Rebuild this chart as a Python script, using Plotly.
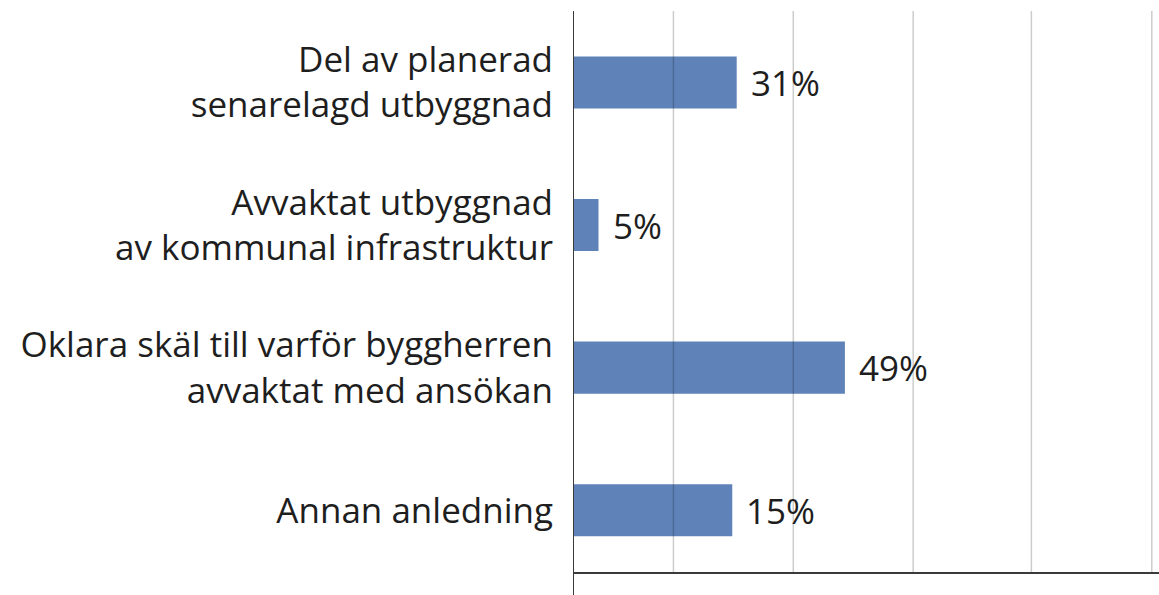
import plotly.graph_objects as go

# Categories (top to bottom)
categories = [
    "Del av planerad<br>senarelagd utbyggnad",
    "Avvaktat utbyggnad<br>av kommunal infrastruktur",
    "Oklara skäl till varför byggherren<br>avvaktat med ansökan",
    "Annan anledning",
]
# Bar lengths as drawn in the picture (axis units)
bar_lengths = [29.5, 4.6, 49.0, 28.7]
# Printed value labels
value_labels = ["31%", "5%", "49%", "15%"]
# Gridline positions (axis units)
grid_positions = [18.1, 39.7, 61.3, 82.6, 104.3]

FONT = "Open Sans"
TXT = "#1e1e1e"
FS = 35

fig = go.Figure()
fig.add_trace(go.Bar(
    x=bar_lengths,
    y=list(range(len(categories))),
    orientation="h",
    width=0.365,
    marker=dict(color="#5f83b9", line=dict(width=0)),
    hoverinfo="skip",
))

for i, (v, lab) in enumerate(zip(bar_lengths, value_labels)):
    fig.add_annotation(
        x=v, y=i, xref="x", yref="y", text=lab, showarrow=False,
        xanchor="left", yanchor="middle", xshift=12,
        font=dict(family=FONT, size=FS, color=TXT),
    )

for g in grid_positions:
    fig.add_shape(type="line", xref="x", yref="paper", x0=g, x1=g, y0=0, y1=1,
                  line=dict(color="rgba(0,0,0,0.2)", width=1.5), layer="above")

# vertical axis line extending below the horizontal axis
fig.add_shape(type="line", xref="x", yref="paper", x0=0, x1=0, y0=-0.045, y1=1,
              line=dict(color="#3a3a3a", width=2), layer="above")

fig.update_layout(
    width=1159, height=595,
    margin=dict(l=573, r=0, t=11, b=23),
    plot_bgcolor="white", paper_bgcolor="white",
    showlegend=False,
    xaxis=dict(range=[0, 105.6], showgrid=False, zeroline=False,
               showticklabels=False, showline=True, linecolor="#3a3a3a",
               linewidth=2, ticks=""),
    yaxis=dict(range=[3.433, -0.501], tickmode="array",
               tickvals=list(range(len(categories))), ticktext=categories,
               showgrid=False, zeroline=False, showline=False, ticks="",
               ticklabelstandoff=19,
               tickfont=dict(family=FONT, size=FS, color=TXT)),
)

fig.write_html(
    "out.html",
    config={"displayModeBar": False},
    post_script="document.body.style.margin='0';document.body.style.overflow='hidden';",
)
